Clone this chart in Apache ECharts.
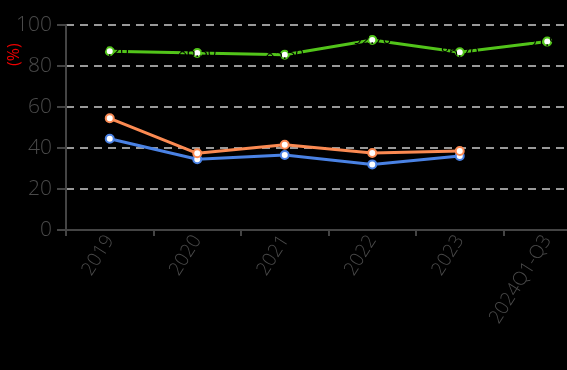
<!DOCTYPE html>
<html><head><meta charset="utf-8">
<script src="https://cdn.jsdelivr.net/npm/echarts@6/dist/echarts.min.js"></script>
<style>html,body{margin:0;padding:0;background:#000;overflow:hidden;}#c{width:567px;height:370px;}</style>
</head><body><div id="c"></div>
<script>
var categories = ['2019','2020','2021','2022','2023','2024Q1-Q3'];
var greenValues = [87.2, 86.3, 85.5, 92.7, 86.7, 91.9];
var orangeValues = [54.5, 37.4, 41.6, 37.6, 38.5, null];
var blueValues = [44.5, 34.5, 36.6, 32.0, 36.1, null];
var yTicks = [0, 20, 40, 60, 80, 100];

var chart = echarts.init(document.getElementById('c'));
var fontFam = '"Open Sans", "Noto Sans", sans-serif';
function lineSeries(name, data, color, withLabel) {
  return {
    name: name, type: 'line', data: data,
    symbol: 'circle', symbolSize: 8,
    itemStyle: { color: '#fff', borderColor: color, borderWidth: 2 },
    lineStyle: { color: color, width: 3 },
    label: withLabel ? { show: true, position: 'inside', color: '#000', fontSize: 15, fontFamily: fontFam,
      formatter: function(p){ return p.value.toFixed(2); } } : { show: false },
    z: withLabel ? 3 : 2
  };
}
chart.setOption({
  backgroundColor: '#000',
  animation: false,
  grid: { left: 66, top: 25, height: 205, width: 525, outerBoundsMode: 'none', containLabel: false },
  xAxis: {
    type: 'category', data: categories, boundaryGap: true,
    axisLine: { lineStyle: { color: '#444', width: 2 } },
    axisTick: { show: true, length: 6, lineStyle: { color: '#444', width: 2 } },
    axisLabel: { rotate: 58, color: '#4a4a4a', fontSize: 19, fontFamily: fontFam, fontWeight: 300, margin: 7 }
  },
  yAxis: {
    type: 'value', min: yTicks[0], max: yTicks[yTicks.length-1], interval: 20,
    axisLine: { show: true, lineStyle: { color: '#444', width: 2 } },
    axisTick: { show: true, length: 9, lineStyle: { color: '#444', width: 2 } },
    axisLabel: { color: '#4a4a4a', fontSize: 21, fontFamily: fontFam, fontWeight: 300, margin: 14 },
    splitLine: { show: true, lineStyle: { color: '#ccc', type: [8, 6], width: 1.5 } }
  },
  graphic: [{
    type: 'text', x: 6, y: 66, rotation: Math.PI/2,
    style: { text: '(%)', fill: '#e00', fontSize: 16, fontFamily: fontFam }
  }],
  series: [
    lineSeries('blue', blueValues, '#4a82e4', false),
    lineSeries('orange', orangeValues, '#fb8a52', false),
    lineSeries('green', greenValues, '#52c41a', true)
  ]
});
</script></body></html>
